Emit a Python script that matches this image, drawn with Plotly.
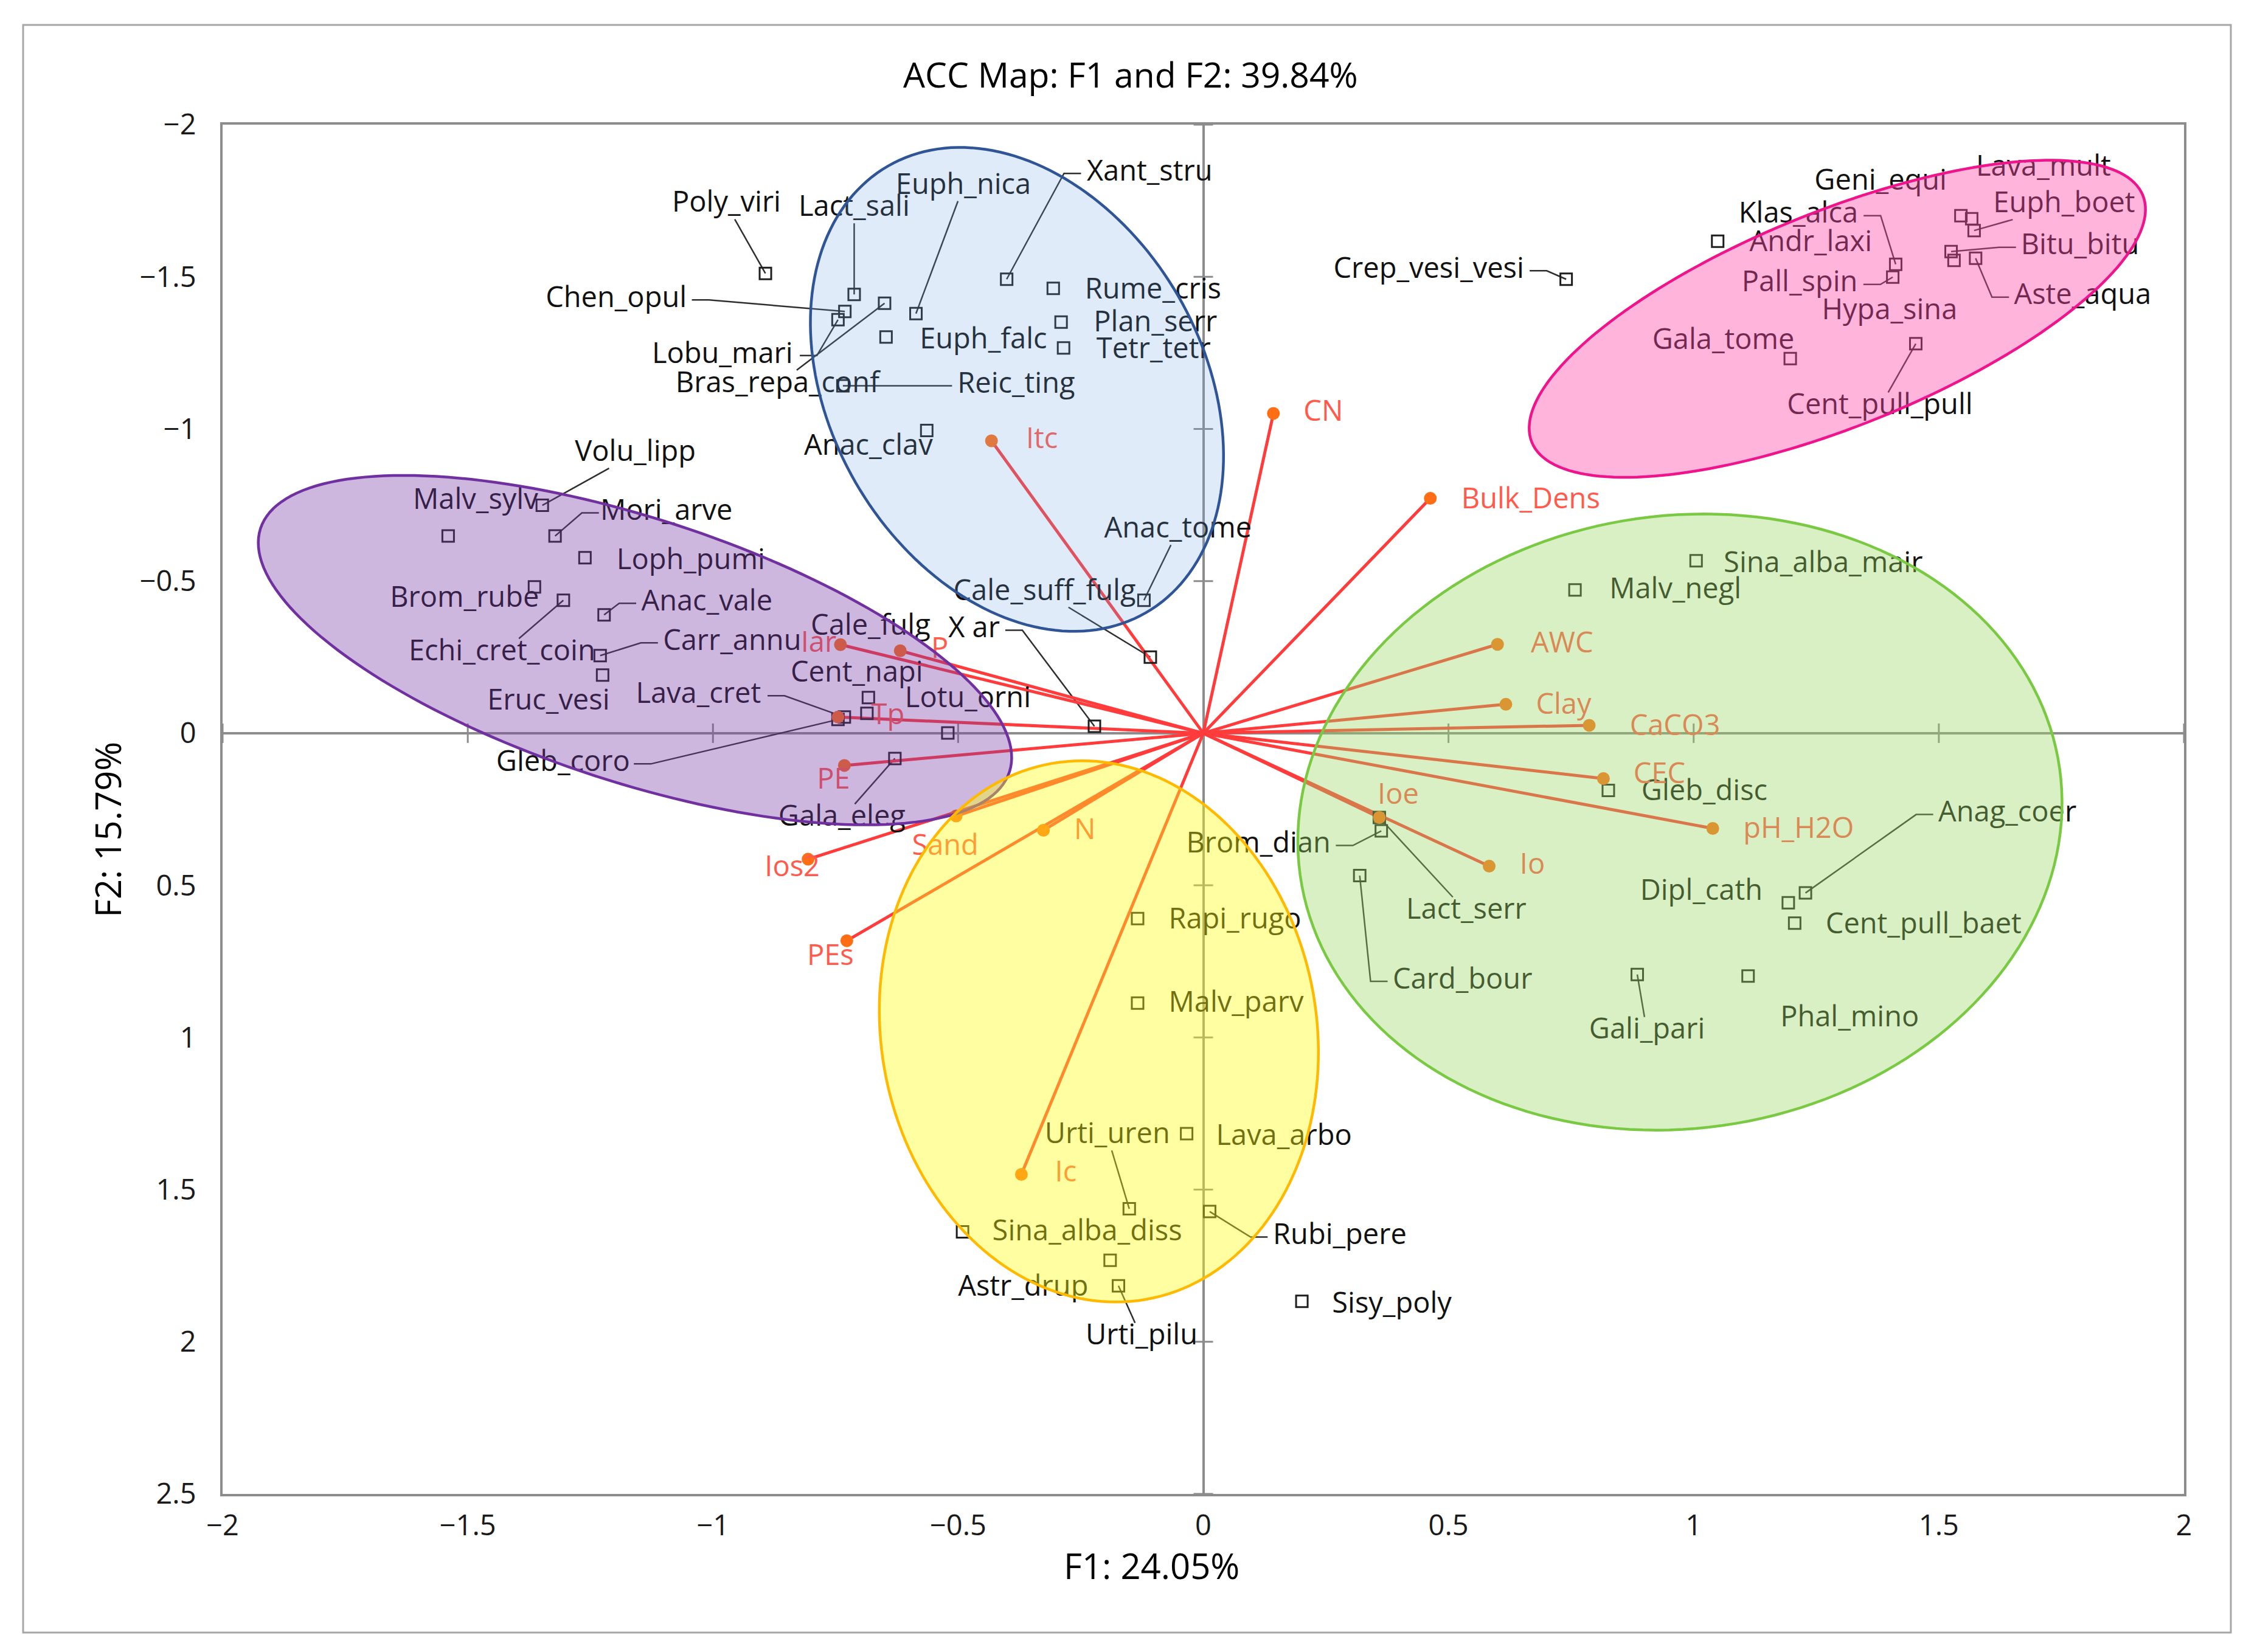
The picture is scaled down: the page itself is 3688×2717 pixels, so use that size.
import math
import plotly.graph_objects as go

# ------------------------------------------------------------------ data
species = ["Poly_viri", "Lact_sali", "Euph_nica", "Xant_stru", "Chen_opul", "Lobu_mari",
           "Bras_repa_conf", "Reic_ting", "Euph_falc", "Rume_cris", "Plan_serr", "Tetr_tetr",
           "Anac_clav", "Anac_tome", "Cale_suff_fulg", "X ar",
           "Volu_lipp", "Malv_sylv", "Mori_arve", "Loph_pumi", "Brom_rube", "Echi_cret_coin",
           "Anac_vale", "Carr_annu", "Eruc_vesi", "Lava_cret", "Gleb_coro", "Cent_napi",
           "Cale_fulg", "Lotu_orni", "Gala_eleg",
           "Rapi_rugo", "Malv_parv", "Lava_arbo", "Urti_uren", "Sina_alba_diss", "Astr_drup",
           "Urti_pilu", "Rubi_pere", "Sisy_poly",
           "Sina_alba_mair", "Malv_negl", "Gleb_disc", "Brom_dian", "Lact_serr", "Card_bour",
           "Anag_coer", "Dipl_cath", "Cent_pull_baet", "Gali_pari", "Phal_mino",
           "Crep_vesi_vesi", "Andr_laxi", "Klas_alca", "Pall_spin", "Gala_tome", "Geni_equi",
           "Lava_mult", "Euph_boet", "Bitu_bitu", "Hypa_sina", "Aste_aqua", "Cent_pull_pull"]
species_f1 = [-0.893, -0.712, -0.586, -0.401, -0.731, -0.745,
              -0.650, -0.735, -0.647, -0.306, -0.290, -0.285,
              -0.564, -0.121, -0.108, -0.222,
              -1.348, -1.540, -1.322, -1.261, -1.364, -1.305,
              -1.222, -1.230, -1.225, -0.732, -0.745, -0.683,
              -0.686, -0.521, -0.629,
              -0.134, -0.134, -0.034, -0.151, -0.491, -0.190,
              -0.173, 0.013, 0.201,
              1.005, 0.758, 0.826, 0.363, 0.359, 0.319,
              1.228, 1.193, 1.206, 0.885, 1.111,
              0.740, 1.049, 1.412, 1.406, 1.197, 1.545,
              1.567, 1.572, 1.525, 1.531, 1.575, 1.453]
species_f2 = [-1.511, -1.442, -1.379, -1.492, -1.386, -1.359,
              -1.413, -1.142, -1.302, -1.462, -1.351, -1.266,
              -0.995, -0.437, -0.250, -0.023,
              -0.749, -0.648, -0.648, -0.577, -0.481, -0.437,
              -0.389, -0.255, -0.191, -0.053, -0.045, -0.117,
              -0.065, -0.001, 0.083,
              0.609, 0.887, 1.316, 1.563, 1.639, 1.732,
              1.816, 1.572, 1.867,
              -0.567, -0.471, 0.188, 0.321, 0.277, 0.468,
              0.525, 0.557, 0.624, 0.793, 0.798,
              -1.492, -1.617, -1.541, -1.499, -1.231, -1.701,
              -1.691, -1.652, -1.583, -1.554, -1.561, -1.280]

variables = ["Itc", "CN", "Bulk_Dens", "Iar", "P", "Tp", "PE", "Sand", "Ios2", "N", "PEs", "Ic",
             "AWC", "Clay", "CaCO3", "CEC", "pH_H2O", "Ioe", "Io"]
variables_f1 = [-0.432, 0.143, 0.463, -0.740, -0.618, -0.745, -0.732, -0.504, -0.806, -0.326,
                -0.727, -0.371, 0.600, 0.617, 0.787, 0.816, 1.039, 0.359, 0.583]
variables_f2 = [-0.961, -1.051, -0.772, -0.291, -0.271, -0.053, 0.106, 0.272, 0.414, 0.319,
                0.682, 1.450, -0.292, -0.095, -0.026, 0.149, 0.313, 0.277, 0.437]

x_ticks = [-2, -1.5, -1, -0.5, 0, 0.5, 1, 1.5, 2]
x_tick_labels = ["\u22122", "\u22121.5", "\u22121", "\u22120.5", "0", "0.5", "1", "1.5", "2"]
y_ticks = [-2, -1.5, -1, -0.5, 0, 0.5, 1, 1.5, 2, 2.5]
y_tick_labels = ["\u22122", "\u22121.5", "\u22121", "\u22120.5", "0", "0.5", "1", "1.5", "2", "2.5"]

# group ellipses: centre (F1, F2), semi-axes (F1 units, isotropic on screen), screen angle
groups = {
    "purple": dict(c=(-1.159, -0.273), a=0.803, b=0.269, ang=-18,
                   fill="rgba(120,60,166,0.37)", line="#7030A0"),
    "blue":   dict(c=(-0.380, -1.130), a=0.526, b=0.380, ang=-60,
                   fill="rgba(110,165,225,0.22)", line="#2F5597"),
    "pink":   dict(c=(1.293, -1.362), a=0.672, b=0.219, ang=22,
                   fill="rgba(255,73,170,0.41)", line="#F0148C"),
    "green":  dict(c=(0.972, 0.292), a=0.782, b=0.625, ang=8,
                   fill="rgba(155,216,100,0.38)", line="#7AC943"),
    "yellow": dict(c=(-0.213, 0.980), a=0.555, b=0.444, ang=100,
                   fill="rgba(255,255,20,0.40)", line="#FFB900"),
}

# ------------------------------------------------------------------ layout constants
W, H = 3688, 2717
ML, MR, MT, MB = 358, 105, 197, 268
XR = [-2, 2]
YR = [2.5, -2]
PX_X = (W - ML - MR) / (XR[1] - XR[0])
PX_Y = (H - MT - MB) / (YR[0] - YR[1])
FONT = "Open Sans"
FS = 47

# label offsets (pixels, label centre relative to point) and leader style
label_pos = {
    "Poly_viri": (-64, -113, "s"), "Lact_sali": (0, -141, "s"), "Euph_nica": (78, -209, "s"),
    "Xant_stru": (235, -174, "h"), "Chen_opul": (-376, -19, "h"), "Lobu_mari": (-190, 59, "h"),
    "Bras_repa_conf": (-176, 134, "s"), "Reic_ting": (285, 0, "h"), "Euph_falc": (160, 7, None),
    "Rume_cris": (164, 5, None), "Plan_serr": (155, 3, None), "Tetr_tetr": (148, 5, None),
    "Anac_clav": (-96, 28, None), "Anac_tome": (56, -115, "s"), "Cale_suff_fulg": (-174, -106, "s"),
    "X ar": (-198, -158, "h"),
    "Volu_lipp": (153, -85, "s"), "Malv_sylv": (45, -56, None), "Mori_arve": (183, -38, "h"),
    "Loph_pumi": (174, 7, None), "Brom_rube": (-115, 21, None), "Echi_cret_coin": (-101, 87, "s"),
    "Anac_vale": (169, -19, "h"), "Carr_annu": (217, -21, "h"), "Eruc_vesi": (-89, 45, None),
    "Lava_cret": (-240, -35, "h"), "Gleb_coro": (-452, 73, "h"), "Cent_napi": (-19, -38, None),
    "Cale_fulg": (6, -141, None), "Lotu_orni": (33, -54, None), "Gala_eleg": (-87, 99, "s"),
    "Rapi_rugo": (160, 5, None), "Malv_parv": (162, 2, None), "Lava_arbo": (160, 7, None),
    "Urti_uren": (-36, -120, "s"), "Sina_alba_diss": (205, 2, None), "Astr_drup": (-143, 47, None),
    "Urti_pilu": (38, 85, "s"), "Rubi_pere": (214, 42, "h"), "Sisy_poly": (148, 7, None),
    "Sina_alba_mair": (209, 7, None), "Malv_negl": (165, 2, None), "Gleb_disc": (158, 4, None),
    "Brom_dian": (-202, 24, "h"), "Lact_serr": (143, 155, "s"), "Card_bour": (169, 174, "h"),
    "Anag_coer": (332, -129, "h"), "Dipl_cath": (-143, -16, None), "Cent_pull_baet": (212, 5, None),
    "Gali_pari": (16, 94, "s"), "Phal_mino": (167, 71, None),
    "Crep_vesi_vesi": (-226, -14, "h"), "Andr_laxi": (153, 5, None), "Klas_alca": (-160, -80, "h"),
    "Pall_spin": (-153, 12, "h"), "Gala_tome": (-110, -28, None), "Geni_equi": (-132, -54, None),
    "Lava_mult": (118, -82, None), "Euph_boet": (148, -42, "s"), "Bitu_bitu": (212, -7, "h"),
    "Hypa_sina": (-106, 85, None), "Aste_aqua": (176, 64, "h"), "Cent_pull_pull": (-59, 104, "s"),
}
var_label_pos = {
    "Itc": (83, 0), "CN": (82, 0), "Bulk_Dens": (165, 5), "Iar": (-36, 0), "P": (65, 0),
    "Tp": (82, 0), "PE": (-18, 26), "Sand": (-18, 52), "Ios2": (-26, 16), "N": (68, 3),
    "PEs": (-27, 28), "Ic": (73, 0), "AWC": (106, 1), "Clay": (95, 4), "CaCO3": (141, 4),
    "CEC": (92, -4), "pH_H2O": (141, 4), "Ioe": (31, -34), "Io": (71, 1),
}

CW = {"a": .556, "b": .613, "c": .48, "d": .613, "e": .561, "f": .336, "g": .546, "h": .613,
      "i": .258, "j": .258, "k": .529, "l": .258, "m": .94, "n": .613, "o": .602, "p": .613,
      "q": .613, "r": .411, "s": .479, "t": .352, "u": .613, "v": .5, "w": .774, "x": .514,
      "y": .5, "z": .468, "_": .461, " ": .26}


def text_w(s):
    return sum(CW.get(ch, 0.62) for ch in s) * FS


def d2p(x, y):
    return x * PX_X, y * PX_Y


def p2d(px, py):
    return px / PX_X, py / PX_Y


# ------------------------------------------------------------------ build traces
fig = go.Figure()

# leader lines
lx, ly = [], []
lab_x, lab_y = [], []
for name, x, y in zip(species, species_f1, species_f2):
    dx, dy, style = label_pos[name]
    px, py = d2p(x, y)
    cx, cy = px + dx, py + dy
    X, Y = p2d(cx, cy)
    lab_x.append(X)
    lab_y.append(Y)
    if style is None:
        continue
    hw = text_w(name) / 2 + 8
    hh = 24
    if style == "h":
        sg = 1 if dx > 0 else -1
        ex, ey = cx - sg * hw, cy
        kx, ky = ex - sg * 28, ey
        pts = [(px, py), (kx, ky), (ex, ey)]
    else:
        s_candidates = []
        if dx != 0:
            s_candidates.append(hw / abs(dx))
        if dy != 0:
            s_candidates.append(hh / abs(dy))
        s = min(s_candidates)
        ex, ey = cx - s * dx, cy - s * dy
        pts = [(px, py), (ex, ey)]
    for (a, b) in pts:
        dxx, dyy = p2d(a, b)
        lx.append(dxx)
        ly.append(dyy)
    lx.append(None)
    ly.append(None)

fig.add_trace(go.Scatter(x=lx, y=ly, mode="lines", line=dict(color="#2e2e2e", width=2.5),
                         hoverinfo="skip", showlegend=False))

# vectors
vx, vy = [], []
for x, y in zip(variables_f1, variables_f2):
    vx += [0, x, None]
    vy += [0, y, None]
fig.add_trace(go.Scatter(x=vx, y=vy, mode="lines", line=dict(color="#FF3B3B", width=5),
                         hoverinfo="skip", showlegend=False))

# species points
fig.add_trace(go.Scatter(x=species_f1, y=species_f2, mode="markers",
                         marker=dict(symbol="square-open", size=19, color="#1e1e1e",
                                     line=dict(width=3, color="#1e1e1e")),
                         text=species, hoverinfo="text", showlegend=False))

# vector end points
fig.add_trace(go.Scatter(x=variables_f1, y=variables_f2, mode="markers",
                         marker=dict(symbol="circle", size=21, color="#FF6E14"),
                         text=variables, hoverinfo="text", showlegend=False))

# species labels
fig.add_trace(go.Scatter(x=lab_x, y=lab_y, mode="text", text=species,
                         textposition="middle center",
                         textfont=dict(family=FONT, size=FS, color="#111111"),
                         hoverinfo="skip", showlegend=False))

# variable labels
vlx, vly = [], []
for name, x, y in zip(variables, variables_f1, variables_f2):
    dx, dy = var_label_pos[name]
    px, py = d2p(x, y)
    X, Y = p2d(px + dx, py + dy)
    vlx.append(X)
    vly.append(Y)
fig.add_trace(go.Scatter(x=vlx, y=vly, mode="text", text=variables,
                         textposition="middle center",
                         textfont=dict(family=FONT, size=FS, color="#FF5A4C"),
                         hoverinfo="skip", showlegend=False))

# ------------------------------------------------------------------ shapes
shapes = []
# cross ticks on the zero axes
tx = 16 / PX_X
ty = 16 / PX_Y
for t in x_ticks:
    shapes.append(dict(type="line", xref="x", yref="y", x0=t, x1=t, y0=-ty, y1=ty,
                       line=dict(color="#8c8c8c", width=3), layer="below"))
for t in y_ticks:
    shapes.append(dict(type="line", xref="x", yref="y", x0=-tx, x1=tx, y0=t, y1=t,
                       line=dict(color="#8c8c8c", width=3), layer="below"))

ratio = PX_X / PX_Y
for g in groups.values():
    cx, cy = g["c"]
    th = math.radians(g["ang"])
    parts = []
    n = 180
    for i in range(n):
        t = 2 * math.pi * i / n
        u, v = g["a"] * math.cos(t), g["b"] * math.sin(t)
        X = u * math.cos(th) - v * math.sin(th)
        Y = u * math.sin(th) + v * math.cos(th)
        parts.append(f"{cx + X:.5f},{cy - Y * ratio:.5f}")
    path = "M " + " L ".join(parts) + " Z"
    shapes.append(dict(type="path", xref="x", yref="y", path=path, fillcolor=g["fill"],
                       line=dict(color=g["line"], width=4.5), layer="above"))


# outer chart frame
def px_to_paper(px, py):
    return (px - ML) / (W - ML - MR), 1 - (py - MT) / (H - MT - MB)


fx0, fy0 = px_to_paper(30, 2677)
fx1, fy1 = px_to_paper(3660, 33)
shapes.append(dict(type="rect", xref="paper", yref="paper", x0=fx0, x1=fx1, y0=fy0, y1=fy1,
                   line=dict(color="#A6A6A6", width=3), fillcolor="rgba(0,0,0,0)", layer="below"))

# ------------------------------------------------------------------ annotations
tx_, ty_ = px_to_paper(1851, 114)
ax_, ay_ = px_to_paper(1885, 2566)
bx_, by_ = px_to_paper(168, 1357)
annotations = [
    dict(text="ACC Map: F1 and F2: 39.84%", x=tx_, y=ty_, xref="paper", yref="paper",
         showarrow=False, font=dict(family=FONT, size=57, color="#000000"),
         xanchor="center", yanchor="middle"),
    dict(text="F1: 24.05%", x=ax_, y=ay_, xref="paper", yref="paper", showarrow=False,
         font=dict(family=FONT, size=58, color="#000000"), xanchor="center", yanchor="middle"),
    dict(text="F2: 15.79%", x=bx_, y=by_, xref="paper", yref="paper", showarrow=False,
         textangle=-90, font=dict(family=FONT, size=58, color="#000000"),
         xanchor="center", yanchor="middle"),
]

axis_common = dict(showgrid=False, zeroline=True, zerolinecolor="#8c8c8c", zerolinewidth=4,
                   showline=True, mirror=True, linecolor="#8c8c8c", linewidth=4, ticks="",
                   tickfont=dict(family=FONT, size=FS, color="#1a1a1a"), fixedrange=True)

fig.update_layout(
    width=W, height=H,
    margin=dict(l=ML, r=MR, t=MT, b=MB),
    paper_bgcolor="white", plot_bgcolor="white",
    xaxis=dict(range=XR, tickmode="array", tickvals=x_ticks, ticktext=x_tick_labels,
               ticklabelstandoff=8, **axis_common),
    yaxis=dict(range=YR, tickmode="array", tickvals=y_ticks, ticktext=y_tick_labels,
               ticklabelstandoff=30, **axis_common),
    shapes=shapes,
    annotations=annotations,
    showlegend=False,
    font=dict(family=FONT),
)

fig.write_html("out.html")
